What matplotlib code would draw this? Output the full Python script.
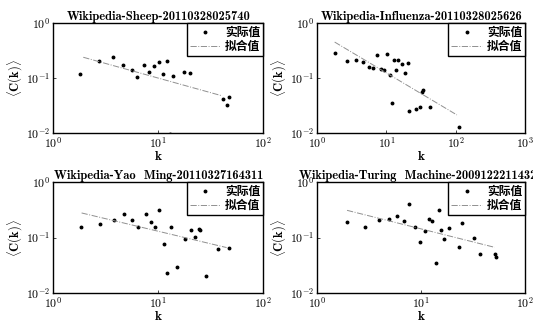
import numpy as np
import matplotlib
matplotlib.use('Agg')
from matplotlib import pyplot as plt
from matplotlib.ticker import FuncFormatter, LogLocator

plt.rcParams['font.family'] = ['cmb10', 'Noto Sans CJK SC', 'DejaVu Serif']
plt.rcParams['mathtext.fontset'] = 'cm'
plt.rcParams['axes.unicode_minus'] = True

# Sheep
sheep_k = [1.79, 2.72, 3.67, 4.64, 5.57, 6.31, 7.3, 8.2, 9.16, 10.1, 11.2, 12.0,
           13.7, 17.4, 20.0, 41.6, 44.8, 47.1, 12.9]
sheep_c = [0.12, 0.207, 0.241, 0.170, 0.142, 0.104, 0.170, 0.132, 0.163, 0.195,
           0.12, 0.201, 0.110, 0.132, 0.125, 0.042, 0.032, 0.045, 0.0098]
sheep_fit_k = [1.93, 40.0]
sheep_fit_c = [0.24, 0.048]

# Influenza
flu_k = [1.79, 2.73, 3.68, 4.65, 5.61, 6.47, 7.39, 8.26, 9.22, 10.1, 11.1, 13.0,
         13.9, 14.8, 16.9, 18.3, 20.6, 12.0, 21.1, 27.0, 30.1, 32.2, 34.0, 42.0, 112]
flu_c = [0.287, 0.203, 0.218, 0.197, 0.158, 0.154, 0.261, 0.144, 0.140, 0.279,
         0.112, 0.218, 0.138, 0.218, 0.181, 0.126, 0.192, 0.0357, 0.0253, 0.0271,
         0.0299, 0.055, 0.060, 0.0295, 0.013]
flu_fit_k = [1.79, 104]
flu_fit_c = [0.454, 0.0214]

# Yao Ming
yao_k = [1.83, 2.78, 3.78, 4.71, 5.65, 6.45, 7.57, 8.45, 9.3, 10.2, 11.3, 12.2,
         13.1, 15.0, 17.9, 20.3, 22.3, 24.4, 24.9, 28.2, 37.3, 47.5]
yao_c = [0.156, 0.179, 0.206, 0.271, 0.209, 0.156, 0.264, 0.187, 0.156, 0.319,
         0.0755, 0.0228, 0.158, 0.030, 0.094, 0.138, 0.101, 0.142, 0.137, 0.0204,
         0.062, 0.064]
yao_fit_k = [1.86, 44.7]
yao_fit_c = [0.278, 0.066]

# Turing Machine
turing_k = [1.94, 2.87, 3.92, 4.89, 5.88, 6.81, 7.72, 8.69, 9.86, 10.8, 11.9, 12.8,
            13.9, 14.8, 15.7, 16.8, 18.7, 23.0, 24.8, 32.6, 37.2, 51.1, 53.0]
turing_c = [0.190, 0.158, 0.207, 0.216, 0.248, 0.195, 0.409, 0.156, 0.0846, 0.134,
            0.216, 0.195, 0.0346, 0.314, 0.138, 0.0946, 0.146, 0.0667, 0.182, 0.100,
            0.0498, 0.051, 0.045]
turing_fit_k = [1.94, 51.0]
turing_fit_c = [0.31, 0.0667]

panels = [
    ('Wikipedia-Sheep-20110328025740', sheep_k, sheep_c, sheep_fit_k, sheep_fit_c, 100),
    ('Wikipedia-Influenza-20110328025626', flu_k, flu_c, flu_fit_k, flu_fit_c, 1000),
    ('Wikipedia-Yao  Ming-20110327164311', yao_k, yao_c, yao_fit_k, yao_fit_c, 100),
    ('Wikipedia-Turing  Machine-20091222114329', turing_k, turing_c, turing_fit_k, turing_fit_c, 100),
]

rects = [
    [0.100, 0.593, 0.394, 0.336],
    [0.595, 0.593, 0.390, 0.336],
    [0.100, 0.104, 0.394, 0.339],
    [0.595, 0.104, 0.390, 0.339],
]


def pow10(v, pos):
    return r'$\mathbf{10^{%d}}$' % int(round(np.log10(v)))


fig = plt.figure(figsize=(5.33, 3.27), dpi=100)

for (title, k, c, fk, fc, xmax), rect in zip(panels, rects):
    ax = fig.add_axes(rect)
    ax.plot(k, c, linestyle='none', marker='o', markersize=1.8, color='black',
            label='实际值')
    ax.plot(fk, fc, linestyle='-.', linewidth=0.7, color='#909090', label='拟合值')
    ax.set_xscale('log')
    ax.set_yscale('log')
    ax.set_xlim(1, xmax)
    ax.set_ylim(0.01, 1)
    ax.minorticks_off()
    ax.xaxis.set_major_locator(LogLocator(base=10))
    ax.yaxis.set_major_locator(LogLocator(base=10))
    ax.xaxis.set_major_formatter(FuncFormatter(pow10))
    ax.yaxis.set_major_formatter(FuncFormatter(pow10))
    ax.tick_params(direction='in', length=2, width=0.5, labelsize=8.5, pad=2)
    for s in ax.spines.values():
        s.set_linewidth(1.0)
    ax.set_title(title, fontsize=9, pad=2)
    ax.set_xlabel('k', fontsize=9.5, labelpad=0)
    ax.set_ylabel(r'$\langle\mathbf{C(k)}\rangle$', fontsize=9, labelpad=1)
    leg = ax.legend(loc='upper right', borderaxespad=0,
                    fancybox=False, framealpha=1, edgecolor='black',
                    handlelength=2.6, handletextpad=0.4, borderpad=0.25,
                    labelspacing=0.05, prop={'family': ['Noto Sans CJK SC'], 'size': 8.5,
                                             'weight': 'bold'})
    leg.get_frame().set_linewidth(1.0)

fig.savefig('out.png', dpi=100)
